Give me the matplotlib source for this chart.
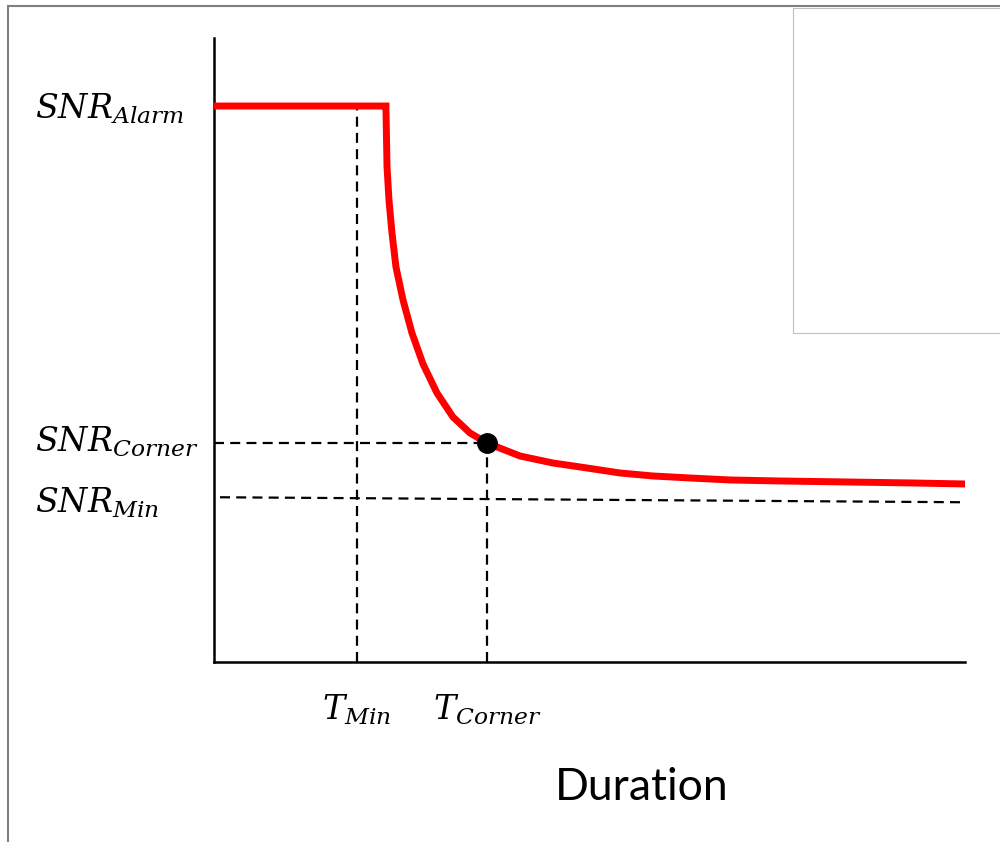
import numpy as np
import matplotlib
matplotlib.use("Agg")
import matplotlib.pyplot as plt
from matplotlib.patches import Rectangle

plt.rcParams['mathtext.fontset'] = 'dejavuserif'

# Curva SNR vs duración (unidades relativas, ejes 0..100)
dur = [0, 22.90, 22.90, 23.04, 23.30, 23.70, 24.23, 25.17, 26.36, 27.83,
       29.69, 31.82, 34.09, 36.35, 40.75, 45.14, 49.67, 54.06, 58.46,
       63.38, 68.71, 75.37, 84.29, 93.08, 100]
snr = [89.10, 89.10, 88.46, 79.33, 74.04, 68.75, 63.30, 58.01, 52.72, 47.76,
       43.11, 39.26, 36.70, 35.10, 33.01, 31.89, 31.09, 30.29, 29.81,
       29.49, 29.17, 29.01, 28.85, 28.69, 28.53]

snr_alarm = 89.1
snr_corner = 35.1
snr_min = [26.4, 25.6]
snr_min_x = [0.8, 100]
t_min = 19.0
t_corner = 36.4

fig = plt.figure(figsize=(10, 8.42), dpi=100)
ax = fig.add_axes([0.214, (842 - 662) / 842, 0.751, 624 / 842])
ax.set_xlim(0, 100)
ax.set_ylim(0, 100)

# líneas guía punteadas
dash = (0, (4.5, 2.8))
ax.plot([0, t_corner], [snr_corner, snr_corner], color='black', ls=dash, lw=1.6)
ax.plot([t_corner, t_corner], [0, snr_corner], color='black', ls=dash, lw=1.6)
ax.plot([t_min, t_min], [0, snr_alarm], color='black', ls=dash, lw=1.6)
ax.plot(snr_min_x, snr_min, color='black', ls=dash, lw=1.6)

ax.plot(dur, snr, color='red', lw=5, solid_joinstyle='miter', zorder=3)
ax.plot([t_corner], [snr_corner], 'o', color='black', ms=14, zorder=4)

for s in ['top', 'right']:
    ax.spines[s].set_visible(False)
for s in ['left', 'bottom']:
    ax.spines[s].set_linewidth(1.8)
ax.set_xticks([])
ax.set_yticks([])

# etiquetas
lbl_x = (35 - 214) / 7.51
ax.text(lbl_x, (662 - 119) / 6.24, r'$SNR_{Alarm}$', fontsize=24, ha='left', va='baseline')
ax.text(lbl_x, (662 - 452) / 6.24, r'$SNR_{Corner}$', fontsize=24, ha='left', va='baseline')
ax.text(lbl_x, (662 - 513) / 6.24, r'$SNR_{Min}$', fontsize=24, ha='left', va='baseline')
ax.text(t_min, (662 - 720) / 6.24, r'$T_{Min}$', fontsize=24, ha='center', va='baseline')
ax.text(t_corner, (662 - 720) / 6.24, r'$T_{Corner}$', fontsize=24, ha='center', va='baseline')

fig.text(0.642, 1 - 788 / 842, 'Duration', fontsize=32, family='Lato',
         ha='center', va='center')

# marcos
fig.patches.append(Rectangle((0.008, -0.1), 1.1, 1.1 - 6 / 842, transform=fig.transFigure,
                             fill=False, edgecolor='#7f7f7f', lw=1.5))
fig.patches.append(Rectangle((0.793, 1 - 333 / 842), 0.3, 325 / 842, transform=fig.transFigure,
                             fill=False, edgecolor='#c0c0c0', lw=0.8))

fig.savefig('out.png', dpi=100)
